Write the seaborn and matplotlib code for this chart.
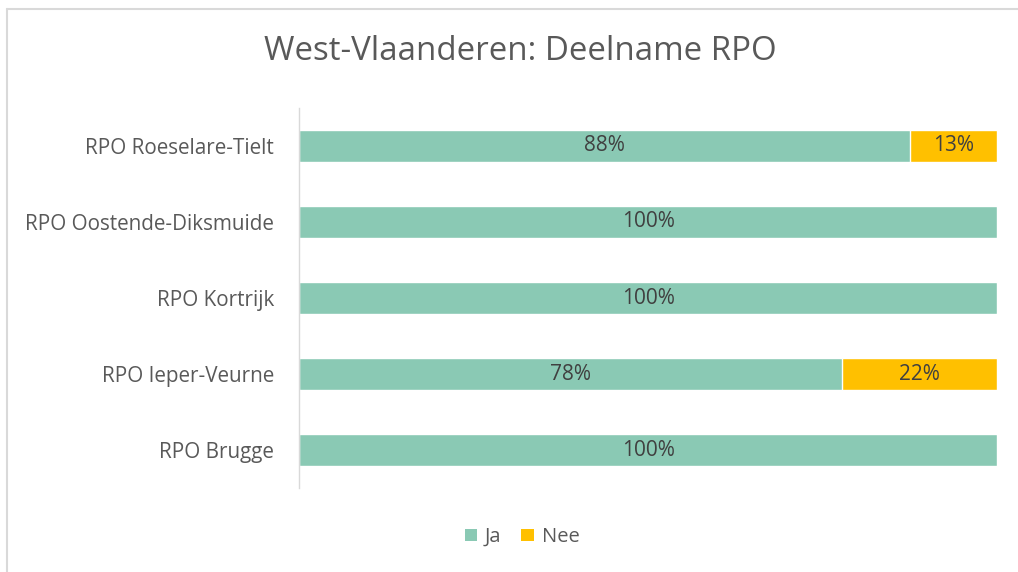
import matplotlib
matplotlib.use("Agg")
import matplotlib.pyplot as plt
import seaborn as sns
import pandas as pd
from matplotlib.patches import Patch
from matplotlib.lines import Line2D

categories = ["RPO Roeselare-Tielt", "RPO Oostende-Diksmuide", "RPO Kortrijk",
              "RPO Ieper-Veurne", "RPO Brugge"]
ja = [87.5, 100, 100, 77.8, 100]
nee = [12.5, 0, 0, 22.2, 0]
series_names = ["Ja", "Nee"]
title = "West-Vlaanderen: Deelname RPO"

teal = "#8AC9B4"
yellow = "#FFC000"
text_gray = "#595959"

sns.set_theme(style="white")
plt.rcParams["font.family"] = ["Open Sans", "DejaVu Sans"]

df = pd.DataFrame({"cat": categories, "ja": ja, "nee": nee})
df["total"] = df["ja"] + df["nee"]

fig = plt.figure(figsize=(10.18, 5.72), dpi=100)
ax = fig.add_axes([299 / 1018, (572 - 488) / 572, (997 - 299) / 1018, (488 - 108) / 572])

sns.barplot(data=df, x="total", y="cat", color=yellow, width=0.42, ax=ax,
            saturation=1, orient="h")
sns.barplot(data=df, x="ja", y="cat", color=teal, width=0.42, ax=ax,
            saturation=1, orient="h")

def fmt(v):
    return f"{int(v + 0.5)}%"

for i, (j, n) in enumerate(zip(ja, nee)):
    ax.text(j / 2, i, fmt(j), ha="center", va="center", fontsize=15, color="#404040")
    if n > 0:
        ax.text(j + n / 2, i, fmt(n), ha="center", va="center", fontsize=15, color="#404040")

ax.set_xlim(0, 100)
ax.set_ylim(4.5, -0.5)
ax.set_xlabel("")
ax.set_ylabel("")
ax.set_xticks([])
for s in ["top", "right", "bottom"]:
    ax.spines[s].set_visible(False)
ax.spines["left"].set_color("#D9D9D9")
ax.spines["left"].set_linewidth(1)
ax.tick_params(axis="y", length=0, pad=18, labelsize=14.9, labelcolor=text_gray)

fig.text(520 / 1018, 1 - 52 / 572, title, ha="center", va="center",
         fontsize=23.8, color=text_gray)

handles = [Patch(facecolor=teal, edgecolor="none"), Patch(facecolor=yellow, edgecolor="none")]
fig.legend(handles, series_names, loc="center", bbox_to_anchor=(522 / 1018, 1 - 537 / 572),
           ncol=2, frameon=False, fontsize=14.5, handlelength=0.6, handleheight=0.6,
           handletextpad=0.4, columnspacing=1.0, labelcolor=text_gray)

# outer chart border (top and left visible)
fig.add_artist(Line2D([7 / 1018, 1], [1 - 9 / 572, 1 - 9 / 572], color="#D9D9D9",
                      lw=1.5, transform=fig.transFigure))
fig.add_artist(Line2D([7 / 1018, 7 / 1018], [0, 1 - 9 / 572], color="#D9D9D9",
                      lw=1.5, transform=fig.transFigure))

fig.savefig("out.png", dpi=100)
